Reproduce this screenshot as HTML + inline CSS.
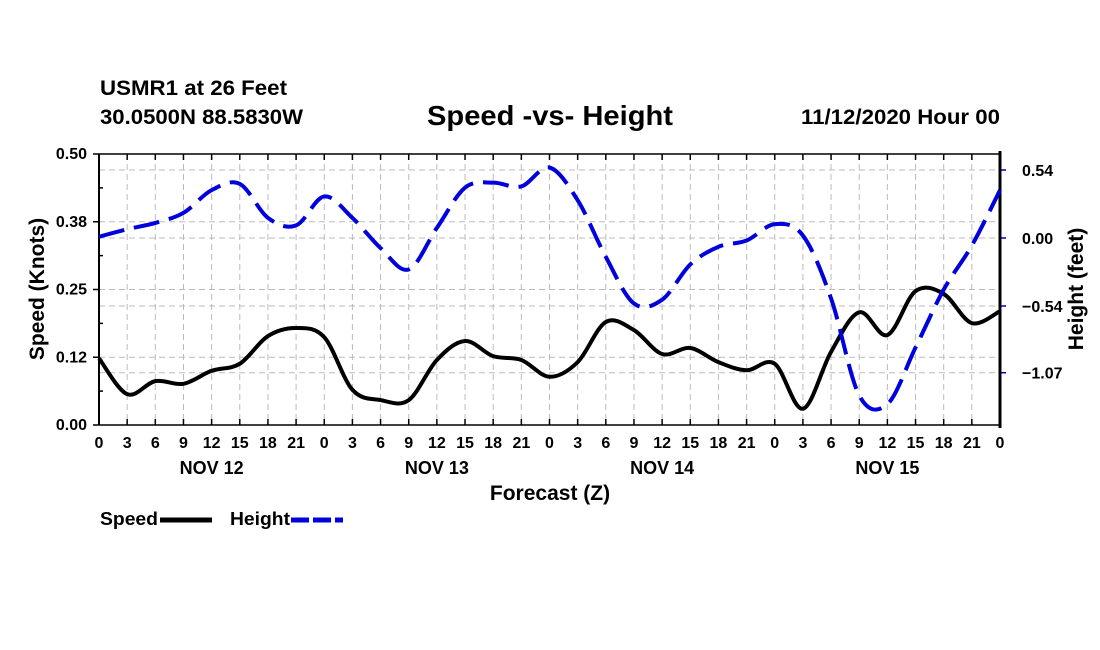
<!DOCTYPE html>
<html><head><meta charset="utf-8"><style>
body{margin:0;background:#fff;}
svg{display:block;font-family:"Liberation Sans",sans-serif;font-weight:bold;}
</style></head><body>
<svg id="chart" width="1100" height="650" xmlns="http://www.w3.org/2000/svg">
<rect width="1100" height="650" fill="#fff"/>
<text x="100" y="95" font-size="21" textLength="187" lengthAdjust="spacingAndGlyphs">USMR1 at 26 Feet</text>
<text x="100" y="124" font-size="21" textLength="203" lengthAdjust="spacingAndGlyphs">30.0500N 88.5830W</text>
<text x="427" y="125" font-size="28" textLength="246" lengthAdjust="spacingAndGlyphs">Speed -vs- Height</text>
<text x="801" y="124" font-size="21" textLength="199" lengthAdjust="spacingAndGlyphs">11/12/2020 Hour 00</text>
<g id="grid"></g><g id="axes"></g><g id="series"></g>
<text transform="translate(44,289) rotate(-90)" font-size="21" text-anchor="middle">Speed (Knots)</text>
<text transform="translate(1083,289) rotate(-90)" font-size="21" text-anchor="middle">Height (feet)</text>
<text x="550" y="500" font-size="21" text-anchor="middle">Forecast (Z)</text>
<g><text x="100" y="525" font-size="18" textLength="58" lengthAdjust="spacingAndGlyphs">Speed</text><line x1="160" y1="520" x2="212" y2="520" stroke="#000" stroke-width="5"/></g>
<g><text x="230" y="525" font-size="18" textLength="60" lengthAdjust="spacingAndGlyphs">Height</text><line x1="291" y1="520" x2="343" y2="520" stroke="#0000dd" stroke-width="5" stroke-dasharray="18,4"/></g>
</svg>
<script>
const hourLabels=["0","3","6","9","12","15","18","21","0","3","6","9","12","15","18","21","0","3","6","9","12","15","18","21","0","3","6","9","12","15","18","21","0"];
const dayLabels=["NOV 12","NOV 13","NOV 14","NOV 15"];
const speedTicks=[0,0.125,0.25,0.375,0.5];
const speedTickLabels=["0.00","0.12","0.25","0.38","0.50"];
const heightTicks=[0.54,0,-0.54,-1.07];
const heightTickLabels=["0.54","0.00","\u22120.54","\u22121.07"];
const speedValues=[0.123,0.057,0.081,0.076,0.10,0.113,0.164,0.179,0.162,0.065,0.046,0.046,0.12,0.155,0.127,0.12,0.089,0.116,0.19,0.175,0.131,0.142,0.116,0.101,0.113,0.03,0.135,0.208,0.166,0.247,0.242,0.188,0.21];
const heightValues=[0.01,0.07,0.12,0.2,0.38,0.43,0.16,0.10,0.33,0.16,-0.08,-0.25,0.08,0.40,0.44,0.41,0.56,0.30,-0.15,-0.52,-0.49,-0.21,-0.07,-0.02,0.11,0.02,-0.48,-1.25,-1.32,-0.87,-0.41,-0.06,0.38];
const NS="http://www.w3.org/2000/svg";
const L=99,R=1000,T=154,B=425;
const xs=i=>L+(R-L)*i/(hourLabels.length-1);
const ySpeed=v=>B-(B-T)*v/0.5;
const yHeight=v=>238-v*125.9;
function mk(tag,attrs,parent){const e=document.createElementNS(NS,tag);for(const k in attrs)e.setAttribute(k,attrs[k]);parent.appendChild(e);return e;}
const grid=document.getElementById('grid'),axes=document.getElementById('axes'),ser=document.getElementById('series');
hourLabels.forEach((h,i)=>{const x=xs(i);
 if(i>0&&i<hourLabels.length-1){const g=mk('line',{x1:x,x2:x,y1:T,y2:B,stroke:'#bbb','stroke-dasharray':'6,4'},grid);
 
 }
 const t=mk('text',{x:x,y:448,'font-size':16,'text-anchor':'middle'},axes);t.textContent=h;
 
 
 mk('line',{x1:x,x2:x,y1:B,y2:B-6,stroke:'#000','stroke-width':1.5},axes);
 mk('line',{x1:x,x2:x,y1:T,y2:T+6,stroke:'#000','stroke-width':1.5},axes);
});
dayLabels.forEach((d,k)=>{const t=mk('text',{x:xs(4+8*k),y:474,'font-size':18,'text-anchor':'middle'},axes);t.textContent=d;
 
 });
speedTicks.forEach((v,k)=>{const y=ySpeed(v);
 if(k>0&&k<speedTicks.length-1){const g=mk('line',{x1:L,x2:R,y1:y,y2:y,stroke:'#bbb','stroke-dasharray':'6,4'},grid);
 
 }
 mk('line',{x1:L-6,x2:L,y1:y,y2:y,stroke:'#000','stroke-width':1.5},axes);
 if(k<speedTicks.length-1){const ym=(y+ySpeed(speedTicks[k+1]))/2;mk('line',{x1:L,x2:L+4,y1:ym,y2:ym,stroke:'#000','stroke-width':1.5},axes);}
 const t=mk('text',{x:L-12,y:y+5,'font-size':16,'text-anchor':'end'},axes);t.textContent=speedTickLabels[k];
 
 });
heightTicks.forEach((v,k)=>{const y=yHeight(v);
 const g=mk('line',{x1:L,x2:R,y1:y,y2:y,stroke:'#bbb','stroke-dasharray':'6,4'},grid);
 
 
 mk('line',{x1:R,x2:R+6,y1:y,y2:y,stroke:'#0000aa','stroke-width':1.5},axes);
 const t=mk('text',{x:R+22,y:y+6,'font-size':16},axes);t.textContent=heightTickLabels[k];
 
 });
mk('line',{x1:L,x2:R,y1:T,y2:T,stroke:'#000','stroke-width':1.5},axes);
mk('line',{x1:L,x2:R,y1:B,y2:B,stroke:'#000','stroke-width':1.5},axes);
mk('line',{x1:L,x2:L,y1:T,y2:B,stroke:'#000','stroke-width':2},axes);
mk('line',{x1:R,x2:R,y1:T-3,y2:B+3,stroke:'#000','stroke-width':3},axes);
function smooth(vals,yf){const p=vals.map((v,i)=>[xs(i),yf(v)]);let d=`M${p[0][0]},${p[0][1]}`;
 for(let i=0;i<p.length-1;i++){const p0=p[Math.max(0,i-1)],p1=p[i],p2=p[i+1],p3=p[Math.min(p.length-1,i+2)];
 d+=` C${p1[0]+(p2[0]-p0[0])/6},${p1[1]+(p2[1]-p0[1])/6} ${p2[0]-(p3[0]-p1[0])/6},${p2[1]-(p3[1]-p1[1])/6} ${p2[0]},${p2[1]}`;}return d;}
const sp=mk('path',{d:smooth(speedValues,ySpeed),fill:'none',stroke:'#000','stroke-width':4},ser);


const hp=mk('path',{d:smooth(heightValues,yHeight),fill:'none',stroke:'#0000dd','stroke-width':4,'stroke-dasharray':'26,10'},ser);


</script>
</body></html>
